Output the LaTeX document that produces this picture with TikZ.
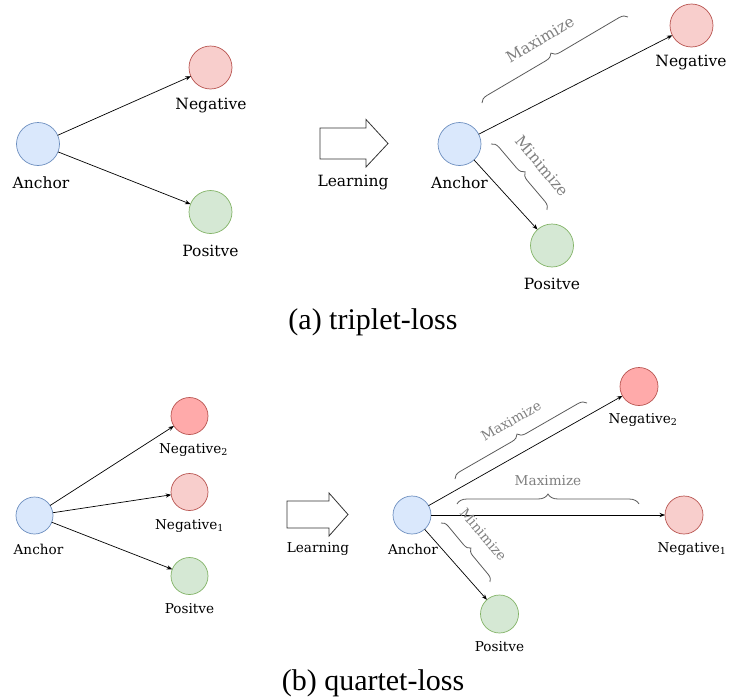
\documentclass[tikz,border=0pt]{standalone}
\usepackage{fontspec}
\setmainfont{Liberation Serif}
\newfontfamily\lblfont{DejaVu Serif}
\usetikzlibrary{decorations.pathreplacing,arrows.meta}

\definecolor{anchorfill}{HTML}{DAE8FC}
\definecolor{anchorline}{HTML}{6C8EBF}
\definecolor{negfill}{HTML}{F8CECC}
\definecolor{negline}{HTML}{B85450}
\definecolor{negdeep}{HTML}{FFAAAA}
\definecolor{posfill}{HTML}{D5E8D4}
\definecolor{posline}{HTML}{82B366}
\definecolor{notegray}{HTML}{7F7F7F}
\definecolor{bracegray}{HTML}{5A5A5A}
\definecolor{outline}{HTML}{333333}

\begin{document}
\begin{tikzpicture}[x=1pt,y=-1pt,
  ball/.style={circle, line width=0.7pt, minimum size=#1, inner sep=0pt, outer sep=0pt},
  anc/.style={ball=#1, draw=anchorline, fill=anchorfill},
  neg/.style={ball=#1, draw=negline, fill=negfill},
  negb/.style={ball=#1, draw=negline, fill=negdeep},
  pos/.style={ball=#1, draw=posline, fill=posfill},
  biglbl/.style={font=\lblfont\fontsize{15.5}{18}\selectfont, inner sep=0pt},
  smalllbl/.style={font=\lblfont\fontsize{13.6}{16}\selectfont, inner sep=0pt},
  bignote/.style={font=\lblfont\fontsize{15.5}{18}\selectfont, text=notegray, inner sep=0pt},
  smallnote/.style={font=\lblfont\fontsize{13.6}{16}\selectfont, text=notegray, inner sep=0pt},
  link/.style={line width=0.7pt, -{Stealth[length=5.5pt,width=4.2pt]}},
  curly/.style={decorate, decoration={brace, amplitude=#1}, draw=bracegray, line width=0.8pt},
  hollow/.style={draw=outline, line width=0.8pt, fill=white},
  caption/.style={font=\fontsize{30}{36}\selectfont, inner sep=0pt}
]
\useasboundingbox (0,0) rectangle (729,699);

% ---------- (a) triplet loss, before learning ----------
\node[anc=43pt] (a1) at (38,144) {};
\node[neg=43pt] (n1) at (210.5,67.5) {};
\node[pos=43pt] (p1) at (210.5,212) {};
\node[biglbl] (a1t) at (41,183) {Anchor};
\node[biglbl] (n1t) at (211,106) {Negative};
\node[biglbl] (p1t) at (210.5,251) {Positve};
\draw[link] (a1) -- (n1);
\draw[link] (a1) -- (p1);

% learning arrow
\draw[hollow] (320,128) -- (366,128) -- (366,119.5) -- (388,143.5) -- (366,167)
  -- (366,159) -- (320,159) -- cycle;
\node[biglbl] (l1t) at (353,183) {Learning};

% ---------- (a) triplet loss, after learning ----------
\node[anc=43pt] (a2) at (459.5,144) {};
\node[neg=43pt] (n2) at (691.5,25.5) {};
\node[pos=43pt] (p2) at (552,245.5) {};
\node[biglbl] (a2t) at (459.5,183) {Anchor};
\node[biglbl] (n2t) at (691,63) {Negative};
\node[biglbl] (p2t) at (552,284) {Positve};
\draw[link] (a2) -- (n2);
\draw[link] (a2) -- (p2);

\coordinate (bmaxA) at (482,103);
\coordinate (bmaxB) at (628,17);
\draw[curly=8pt] (bmaxA) -- (bmaxB);
\node[bignote, rotate=30.5] (maxA) at (540,39.5) {Maximize};

\coordinate (bminA) at (491,144);
\coordinate (bminB) at (547,210);
\draw[curly=8pt] (bminA) -- (bminB);
\node[bignote, rotate=-49.7] (minA) at (542.5,166) {Minimize};

\node[caption] (capa) at (373,322) {(a) triplet-loss};

% ---------- (b) quartet loss, before learning ----------
\node[anc=37pt] (a3) at (34.5,515.5) {};
\node[negb=37pt] (m3) at (189.5,416) {};
\node[neg=37pt] (n3) at (189.5,492) {};
\node[pos=37pt] (p3) at (189.5,576) {};
\node[smalllbl] (a3t) at (38.5,549) {Anchor};
\node[smalllbl] (m3t) at (193.5,450) {Negative\textsubscript{2}};
\node[smalllbl] (n3t) at (189.5,526) {Negative\textsubscript{1}};
\node[smalllbl] (p3t) at (189.5,609) {Positve};
\draw[link] (a3) -- (m3);
\draw[link] (a3) -- (n3);
\draw[link] (a3) -- (p3);

% learning arrow
\draw[hollow] (287,501) -- (329,501) -- (329,493) -- (348,514.5) -- (329,536)
  -- (329,528) -- (287,528) -- cycle;
\node[smalllbl] (l2t) at (318,549) {Learning};

% ---------- (b) quartet loss, after learning ----------
\node[anc=38pt] (a4) at (412,515) {};
\node[negb=38pt] (m4) at (639,386.5) {};
\node[neg=38pt] (n4) at (684,515) {};
\node[pos=38pt] (p4) at (499.5,614) {};
\node[smalllbl] (a4t) at (413,549) {Anchor};
\node[smalllbl] (m4t) at (643,420) {Negative\textsubscript{2}};
\node[smalllbl] (n4t) at (692,549) {Negative\textsubscript{1}};
\node[smalllbl] (p4t) at (499.5,647) {Positve};
\draw[link] (a4) -- (m4);
\draw[link] (a4) -- (n4);
\draw[link] (a4) -- (p4);

\coordinate (cmaxA) at (455,479);
\coordinate (cmaxB) at (587,403);
\draw[curly=8pt] (cmaxA) -- (cmaxB);
\node[smallnote, rotate=30] (maxB) at (511,421) {Maximize};

\coordinate (dmaxA) at (457,504);
\coordinate (dmaxB) at (639,504);
\draw[curly=10pt] (dmaxA) -- (dmaxB);
\node[smallnote] (maxC) at (548,481) {Maximize};

\coordinate (cminA) at (441,523);
\coordinate (cminB) at (490,582);
\draw[curly=7pt] (cminA) -- (cminB);
\node[smallnote, rotate=-50] (minB) at (483.5,534.5) {Minimize};

\node[caption] (capb) at (373,683) {(b) quartet-loss};
\end{tikzpicture}
\end{document}
